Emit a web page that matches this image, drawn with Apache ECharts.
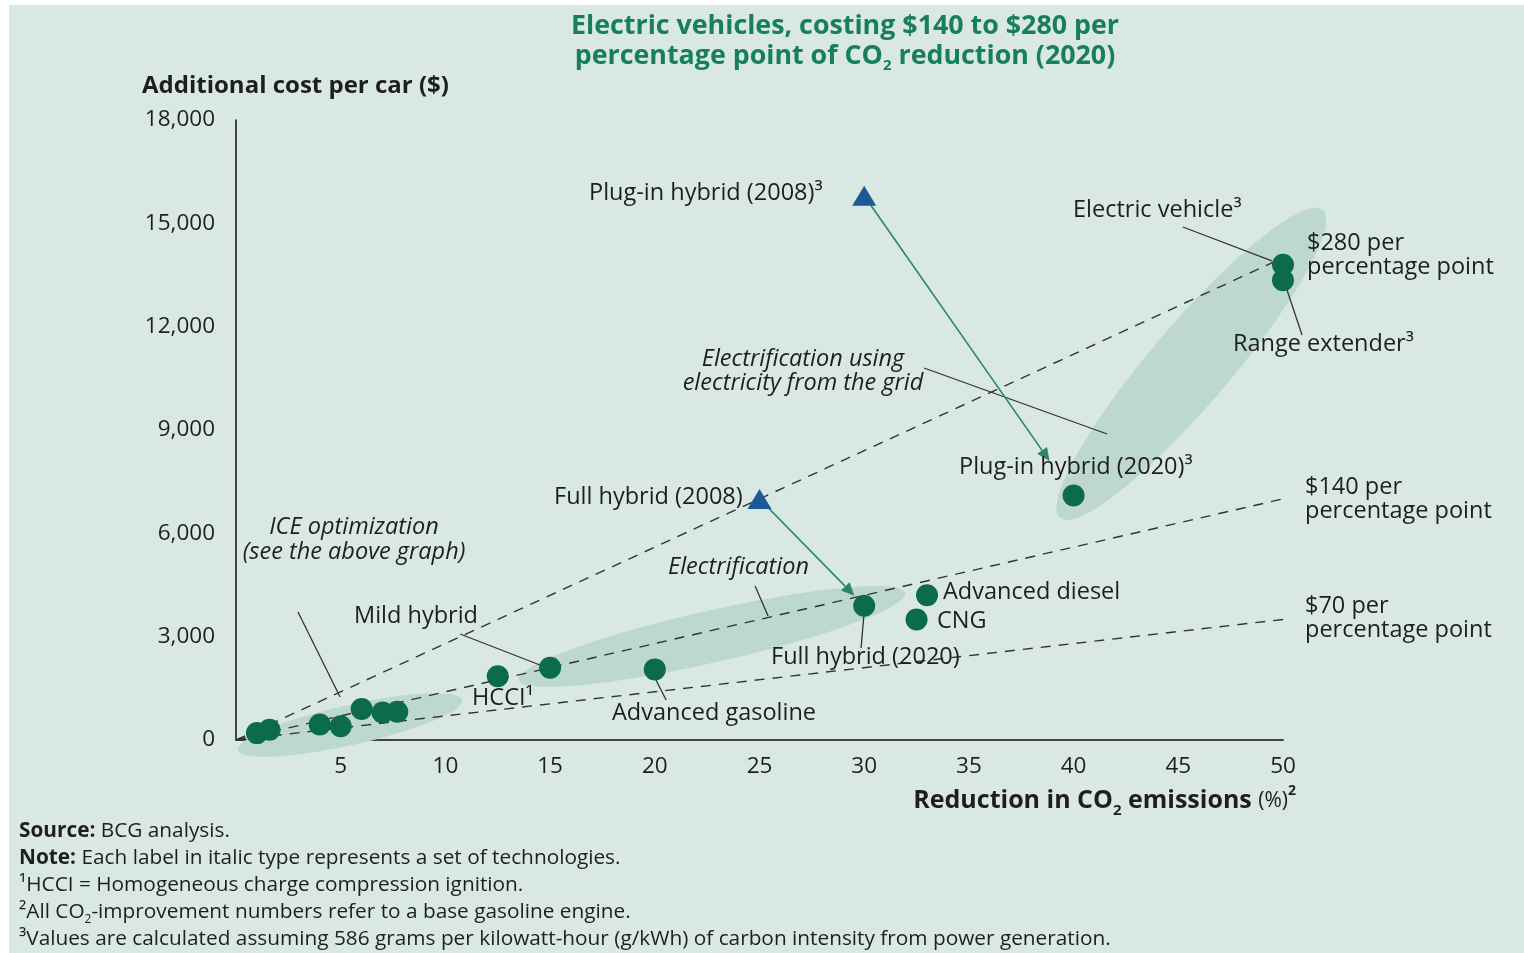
<!DOCTYPE html>
<html><head><meta charset="utf-8">
<script src="https://cdn.jsdelivr.net/npm/echarts@6/dist/echarts.min.js"></script>
<style>html,body{margin:0;padding:0;background:#fff;} #c{width:1524px;height:953px;}</style>
</head><body><div id="c"></div>
<script>
// ---------- data ----------
// ICE optimization cluster (2020)
const iceReduction = [1.0, 1.6, 4.0, 5.0, 6.0, 7.0, 7.7];
const iceCost      = [200, 300, 450, 400, 900, 800, 820];
// Named technologies (2020)
const techNames     = ['HCCI', 'Mild hybrid', 'Advanced gasoline', 'Full hybrid (2020)', 'CNG', 'Advanced diesel', 'Plug-in hybrid (2020)', 'Range extender', 'Electric vehicle'];
const techReduction = [12.5, 15, 20, 30, 32.5, 33, 40, 50, 50];
const techCost      = [1850, 2100, 2050, 3900, 3500, 4200, 7100, 13350, 13800];
// 2008 reference points
const tech2008Names     = ['Full hybrid (2008)', 'Plug-in hybrid (2008)'];
const tech2008Reduction = [25, 30];
const tech2008Cost      = [7000, 15800];
const tech2008Target    = ['Full hybrid (2020)', 'Plug-in hybrid (2020)'];
// Iso-cost lines ($ per percentage point), cost reached at 50 % reduction
const isoNames     = ['$280 per percentage point', '$140 per percentage point', '$70 per percentage point'];
const isoCostAt50  = [14000, 7000, 3500];
// Technology groups (shaded regions): major axis ends in data units
const groupNames = ['ICE optimization', 'Electrification', 'Electrification using electricity from the grid'];
const groupStart = [[0.1, -290], [13.5, 1740], [39.35, 6450]];
const groupEnd   = [[10.8, 1160], [31.95, 4270], [51.9, 15390]];
// Axis ticks
const xTickStep = 5, xMax = 50;
const yTickStep = 3000, yMax = 18000;

// ---------- styles / layout ----------
const FONT = "'Open Sans', 'Noto Sans', sans-serif";
const INK = '#1e1e1e';
const GREEN = '#0b6b4b';
const BLUE = '#1b5a94';
const ARROW = '#2b8762';
const SHADE = '#bdd8cf';
const LBL = 23.5;
const FN = 20.8;
const groupHalfWidthPx = [20, 26, 40];
const arrowTrimPx = [[11, 14], [11, 42]];
// leader lines (label -> point), data units
const leaders = [
  [2.96, 3716, 4.97, 1248],
  [10.70, 3077, 14.76, 2119],
  [24.79, 4471, 25.41, 3600],
  [20.01, 1800, 20.54, 1161],
  [29.99, 3658, 29.85, 2671],
  [45.22, 14894, 49.47, 13907],
  [50.19, 13065, 50.91, 11758],
  [32.86, 10800, 41.6, 8884]
];

function txt(x, y, text, o) {
  return {type: 'text', x: x, y: y, z: 50, silent: true,
    style: Object.assign({text: text, fill: INK, fontSize: LBL, fontFamily: FONT,
      align: 'left', verticalAlign: 'middle', textAlign: 'left', textVerticalAlign: 'middle'}, o || {})};
}
const ital = {fontStyle: 'italic'};
const TG = '#17805a';

const graphics = [
  {type: 'rect', z: -100, silent: true, shape: {x: 9, y: 5, width: 1515, height: 948}, style: {fill: '#dae8e4'}},
  // title
  txt(845, 26, 'Electric vehicles, costing $140 to $280 per', {align: 'center', textAlign: 'center', fontSize: 26.8, fontWeight: 'bold', fill: TG}),
  txt(845, 56, '{m|percentage point of CO}{s|2}{m| reduction (2020)}', {align: 'center', textAlign: 'center', fontSize: 26.8, fontWeight: 'bold', fill: TG,
    rich: {m: {fontSize: 26.8, fontWeight: 'bold', fill: TG, fontFamily: FONT, lineHeight: 34}, s: {fontSize: 15, fontWeight: 'bold', fill: TG, fontFamily: FONT, lineHeight: 15, verticalAlign: 'bottom'}}}),
  // axis names
  txt(142, 86, 'Additional cost per car ($)', {fontWeight: 'bold', fontSize: 24}),
  txt(1296, 801, '{b|Reduction in CO}{s|2}{b| emissions }{p|(%)}{u|2}', {align: 'right', textAlign: 'right',
    rich: {b: {fontSize: 25, fontWeight: 'bold', fill: INK, fontFamily: FONT, lineHeight: 34},
           s: {fontSize: 15, fontWeight: 'bold', fill: INK, fontFamily: FONT, lineHeight: 15, verticalAlign: 'bottom'},
           p: {fontSize: 21, fill: INK, fontFamily: FONT, lineHeight: 34},
           u: {fontSize: 14, fontWeight: 'bold', fill: INK, fontFamily: FONT, lineHeight: 14, verticalAlign: 'top'}}}),
  // point / group labels
  txt(589, 193, 'Plug-in hybrid (2008)³'),
  txt(1073, 210, 'Electric vehicle³'),
  txt(1307, 243, '$280 per'),
  txt(1307, 267, 'percentage point'),
  txt(1233, 344, 'Range extender³'),
  txt(803, 359, 'Electrification using', Object.assign({align: 'center', textAlign: 'center'}, ital)),
  txt(803, 383, 'electricity from the grid', Object.assign({align: 'center', textAlign: 'center'}, ital)),
  txt(959, 467, 'Plug-in hybrid (2020)³'),
  txt(1305, 487, '$140 per'),
  txt(1305, 511, 'percentage point'),
  txt(554, 497, 'Full hybrid (2008)'),
  txt(354, 527, 'ICE optimization', Object.assign({align: 'center', textAlign: 'center'}, ital)),
  txt(354, 552, '(see the above graph)', Object.assign({align: 'center', textAlign: 'center'}, ital)),
  txt(668, 567, 'Electrification', ital),
  txt(943, 592, 'Advanced diesel'),
  txt(1305, 606, '$70 per'),
  txt(1305, 630, 'percentage point'),
  txt(354, 616, 'Mild hybrid'),
  txt(937, 621, 'CNG'),
  txt(771, 657, 'Full hybrid (2020)'),
  txt(472, 698, 'HCCI¹'),
  txt(612, 713, 'Advanced gasoline'),
  // footnotes
  txt(19, 831, '{b|Source:} BCG analysis.', {fontSize: FN, rich: {b: {fontWeight: 'bold', fontSize: FN, fontFamily: FONT, fill: INK}}}),
  txt(19, 858, '{b|Note:} Each label in italic type represents a set of technologies.', {fontSize: FN, rich: {b: {fontWeight: 'bold', fontSize: FN, fontFamily: FONT, fill: INK}}}),
  txt(19, 885, '¹HCCI = Homogeneous charge compression ignition.', {fontSize: FN}),
  txt(19, 912, '{m|²All CO}{s|2}{m|-improvement numbers refer to a base gasoline engine.}', {fontSize: FN,
    rich: {m: {fontSize: FN, fontFamily: FONT, fill: INK, lineHeight: 27}, s: {fontSize: 12, fontFamily: FONT, fill: INK, lineHeight: 12, verticalAlign: 'bottom'}}}),
  txt(19, 939, '³Values are calculated assuming 586 grams per kilowatt-hour (g/kWh) of carbon intensity from power generation.', {fontSize: FN})
];

// ---------- series ----------
const ellipseSeries = {
  type: 'custom', coordinateSystem: 'cartesian2d', z: 1, silent: true, clip: false,
  data: groupNames.map((n, i) => [groupStart[i][0], groupStart[i][1], groupEnd[i][0], groupEnd[i][1], i]),
  encode: {x: [0, 2], y: [1, 3]},
  renderItem: function (params, api) {
    const a = api.coord([api.value(0), api.value(1)]);
    const b = api.coord([api.value(2), api.value(3)]);
    const w = groupHalfWidthPx[api.value(4)];
    const cx = (a[0] + b[0]) / 2, cy = (a[1] + b[1]) / 2;
    const L = Math.hypot(b[0] - a[0], b[1] - a[1]) / 2;
    const ang = Math.atan2(b[1] - a[1], b[0] - a[0]);
    const pts = [];
    for (let k = 0; k < 90; k++) {
      const t = k / 90 * 2 * Math.PI;
      const ex = L * Math.cos(t), ey = w * Math.sin(t);
      pts.push([cx + ex * Math.cos(ang) - ey * Math.sin(ang), cy + ex * Math.sin(ang) + ey * Math.cos(ang)]);
    }
    return {type: 'polygon', shape: {points: pts}, style: {fill: SHADE}};
  }
};

const isoSeries = isoNames.map((n, i) => ({
  name: n, type: 'line', z: 2, silent: true, symbol: 'none',
  data: [[0, 0], [xMax, isoCostAt50[i]]],
  lineStyle: {color: '#333', width: 1.4, type: [10, 8]}
}));

const leaderSeries = {
  type: 'custom', coordinateSystem: 'cartesian2d', z: 3, silent: true, clip: false,
  data: leaders, encode: {x: [0, 2], y: [1, 3]},
  renderItem: function (params, api) {
    const a = api.coord([api.value(0), api.value(1)]);
    const b = api.coord([api.value(2), api.value(3)]);
    return {type: 'line', shape: {x1: a[0], y1: a[1], x2: b[0], y2: b[1]}, style: {stroke: '#333', lineWidth: 1.3}};
  }
};

const arrowData = tech2008Names.map((n, i) => {
  const j = techNames.indexOf(tech2008Target[i]);
  return [tech2008Reduction[i], tech2008Cost[i], techReduction[j], techCost[j], i];
});
const arrowSeries = {
  type: 'custom', coordinateSystem: 'cartesian2d', z: 4, silent: true, clip: false,
  data: arrowData, encode: {x: [0, 2], y: [1, 3]},
  renderItem: function (params, api) {
    const a = api.coord([api.value(0), api.value(1)]);
    const b = api.coord([api.value(2), api.value(3)]);
    const tr = arrowTrimPx[api.value(4)];
    const dx = b[0] - a[0], dy = b[1] - a[1], L = Math.hypot(dx, dy);
    const ux = dx / L, uy = dy / L;
    const s = [a[0] + ux * tr[0], a[1] + uy * tr[0]];
    const e = [b[0] - ux * tr[1], b[1] - uy * tr[1]];
    const hl = 13, hw = 6;
    const base = [e[0] - ux * hl, e[1] - uy * hl];
    return {type: 'group', children: [
      {type: 'line', shape: {x1: s[0], y1: s[1], x2: base[0], y2: base[1]}, style: {stroke: ARROW, lineWidth: 1.6}},
      {type: 'polygon', shape: {points: [e, [base[0] - uy * hw, base[1] + ux * hw], [base[0] + uy * hw, base[1] - ux * hw]]}, style: {fill: ARROW}}
    ]};
  }
};

const pointSeries2020 = {
  name: '2020', type: 'scatter', z: 6, symbol: 'circle', symbolSize: 22,
  itemStyle: {color: GREEN, opacity: 1},
  data: iceReduction.map((x, i) => [x, iceCost[i]]).concat(techReduction.map((x, i) => ({name: techNames[i], value: [x, techCost[i]]})))
};
const pointSeries2008 = {
  name: '2008', type: 'scatter', z: 6, symbol: 'triangle', symbolSize: [24, 20],
  itemStyle: {color: BLUE, opacity: 1},
  data: tech2008Reduction.map((x, i) => ({name: tech2008Names[i], value: [x, tech2008Cost[i]]}))
};

const chart = echarts.init(document.getElementById('c'), null, {renderer: 'canvas'});
chart.setOption({
  backgroundColor: '#ffffff',
  animation: false,
  textStyle: {fontFamily: FONT},
  grid: {left: 236, right: 241, top: 120, bottom: 213, containLabel: false},
  xAxis: {
    type: 'value', min: 0, max: xMax, interval: xTickStep,
    axisLine: {show: true, lineStyle: {color: '#444', width: 2}},
    axisTick: {show: false}, splitLine: {show: false},
    axisLabel: {color: INK, fontSize: 22.5, fontFamily: FONT, margin: 15, showMinLabel: false,
      formatter: v => v === 0 ? '' : String(v)}
  },
  yAxis: {
    type: 'value', min: 0, max: yMax, interval: yTickStep,
    axisLine: {show: true, lineStyle: {color: '#111', width: 1.5}},
    axisTick: {show: false}, splitLine: {show: false},
    axisLabel: {color: INK, fontSize: 22.5, fontFamily: FONT, margin: 21,
      formatter: v => v.toLocaleString('en-US')}
  },
  graphic: graphics,
  series: [ellipseSeries].concat(isoSeries, [leaderSeries, arrowSeries, pointSeries2020, pointSeries2008])
});
</script></body></html>
